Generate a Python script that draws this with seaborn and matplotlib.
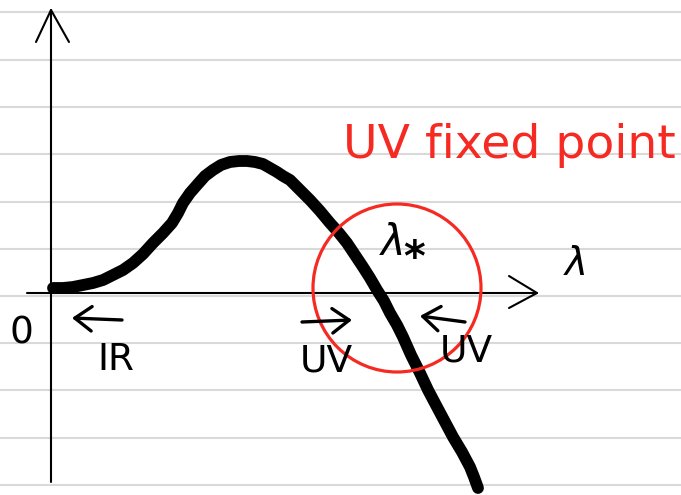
import matplotlib
matplotlib.use("Agg")
import matplotlib.pyplot as plt
from matplotlib.patches import Circle
import seaborn as sns
import pandas as pd

# ---- data (sketch coordinates: lambda along x, beta(lambda) along y) ----
lam = [2, 12, 22, 32, 42, 52, 62, 72, 82, 92, 102, 112, 121, 127, 132, 139,
       146, 154, 162, 170, 179, 188, 196, 204, 212, 219, 226, 232, 239, 249,
       259, 269, 279, 288, 296, 304, 312, 319, 326, 333, 339, 346, 352, 360,
       369, 377, 386, 394, 402, 411, 419, 423, 427]
beta = [5, 5, 6, 8, 10, 13, 18, 23, 30, 39, 50, 60, 70, 80, 90, 100,
        108, 117, 123, 128, 131, 132, 132, 131, 129, 125, 121, 117, 113, 103,
        93, 82, 70, 60, 50, 38, 26, 15, 3, -8, -20, -32, -44, -62,
        -80, -97, -114, -129, -144, -159, -174, -184, -195]

ruled_lines = [281, 233, 186, 139, 91, 44, -3, -50, -97, -145, -192]

fixed_point = 346          # lambda_* position (where the circle is centred)
circle_radius = 84

title_text = "UV fixed point"
star_label = r"$\lambda$"
star_sub = "*"
axis_label = r"$\lambda$"
origin_label = "0"
flow_labels = ["IR", "UV", "UV"]

# ---- figure ----
sns.set_theme(style="white")
plt.rcParams['font.family'] = ['DejaVu Sans']
plt.rcParams['text.color'] = 'black'

fig = plt.figure(figsize=(6.81, 4.95), dpi=100)
ax = fig.add_axes([0, 0, 1, 1])

# ruled notebook lines
for y in ruled_lines:
    ax.axhline(y, color="#d9d9d9", lw=1.5, zorder=0)

# axes with open arrowheads
ax.plot([-24, 486], [0, 0], color="black", lw=1.5, zorder=2)
ax.plot([458, 486, 458], [17, 0, -15], color="black", lw=1.5, zorder=2)
ax.plot([0, 0], [-189, 283], color="black", lw=1.5, zorder=2)
ax.plot([-15, 0, 18], [251, 283, 251], color="black", lw=1.5, zorder=2)

# beta function curve
df = pd.DataFrame({"lam": lam, "beta": beta})
sns.lineplot(data=df, x="lam", y="beta", ax=ax, sort=False, estimator=None,
             color="black", linewidth=8.5, solid_capstyle="round",
             solid_joinstyle="round", zorder=3)
ax.set_xlim(-51, 630)
ax.set_ylim(-202, 293)
ax.axis("off")

# red circle around fixed point
ax.add_patch(Circle((fixed_point, 5), circle_radius, fill=False,
                    edgecolor="#f52a22", lw=2.3, zorder=4))

# texts
ax.text(458, 147, title_text, color="#f52a22", fontsize=34,
        ha="center", va="center", zorder=5)
ax.text(340, 50, star_label, fontsize=30, ha="center", va="center",
        color="black", zorder=5)
ax.text(363, 34, star_sub, fontsize=30, ha="center", va="center",
        color="black", fontweight="bold", zorder=5)
ax.text(523, 29, axis_label, fontsize=28, ha="center", va="center",
        color="black", zorder=5)
ax.text(-30, -41, origin_label, fontsize=27, ha="center", va="center",
        color="black", zorder=5)
ax.text(65, -67, flow_labels[0], fontsize=27, ha="center", va="center",
        color="black", zorder=5)
ax.text(275, -68, flow_labels[1], fontsize=27, ha="center", va="center",
        color="black", zorder=5)
ax.text(415, -58, flow_labels[2], fontsize=27, ha="center", va="center",
        color="black", zorder=5)

# flow arrows
arrow_kw = dict(arrowstyle="->,head_length=0.55,head_width=0.4",
                color="black", lw=2.4, mutation_scale=22, shrinkA=0, shrinkB=0)
ax.annotate("", xy=(21, -25), xytext=(71, -27), arrowprops=arrow_kw, zorder=5)
ax.annotate("", xy=(301, -27), xytext=(251, -29), arrowprops=arrow_kw, zorder=5)
ax.annotate("", xy=(369, -23), xytext=(414, -29), arrowprops=arrow_kw, zorder=5)

fig.savefig("out.png", dpi=100, facecolor="white")
